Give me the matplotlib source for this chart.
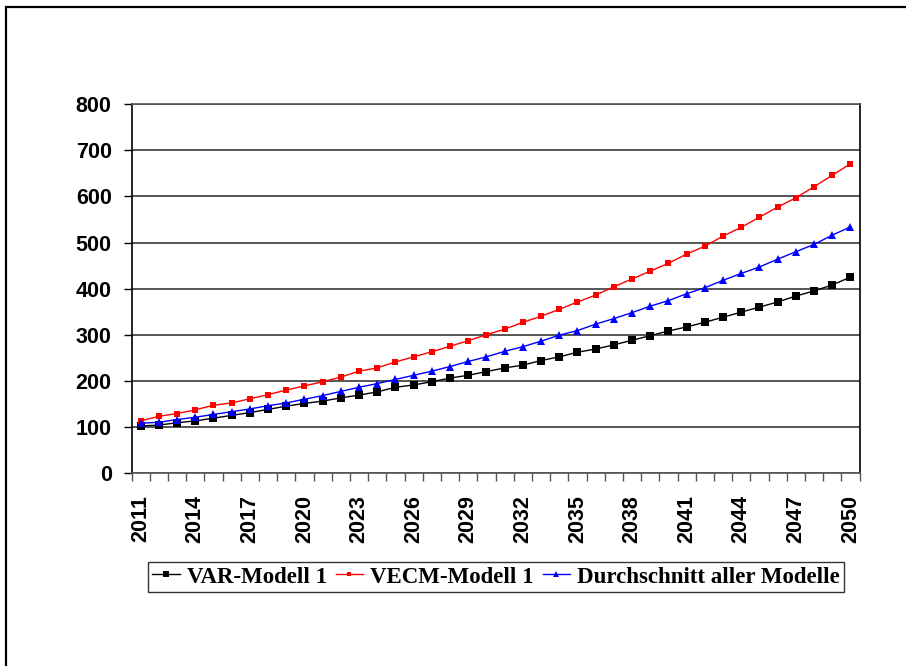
import matplotlib
matplotlib.use("Agg")
import matplotlib.pyplot as plt
from matplotlib.patches import Rectangle

years = list(range(2011, 2051))

var_modell = [102, 104, 109, 113, 119, 125, 131, 138, 145, 151,
              156, 163, 169, 176, 186, 191, 198, 206, 212, 220,
              228, 234, 244, 252, 262, 269, 278, 288, 298, 308,
              317, 327, 338, 349, 360, 371, 384, 395, 408, 425]

vecm_modell = [113, 123, 129, 137, 147, 152, 161, 170, 180, 189,
               198, 208, 221, 228, 241, 252, 263, 275, 287, 300,
               312, 327, 340, 355, 371, 386, 404, 421, 438, 455,
               475, 492, 514, 533, 555, 577, 597, 621, 646, 671]

durchschnitt = [108, 110, 116, 121, 127, 133, 139, 146, 152, 160,
                168, 177, 186, 194, 203, 212, 221, 231, 242, 252,
                264, 274, 286, 299, 309, 323, 335, 348, 362, 374,
                389, 402, 418, 433, 447, 464, 480, 496, 516, 534]

labels = ["VAR-Modell 1", "VECM-Modell 1", "Durchschnitt aller Modelle"]

fig = plt.figure(figsize=(9.06, 6.66), dpi=100)
ax = fig.add_axes([131.5 / 906, 1 - 473 / 666, 728 / 906, 368.7 / 666])

x = list(range(len(years)))
ax.plot(x, var_modell, color="black", lw=1.0, marker="s", ms=5.8,
        markeredgewidth=0, label=labels[0], zorder=3)
ax.plot(x, vecm_modell, color="#ff0000", lw=1.0, marker="s", ms=4.4,
        markeredgewidth=0, label=labels[1], zorder=3)
ax.plot(x, durchschnitt, color="#0000ff", lw=1.0, marker="^", ms=5.8,
        markeredgewidth=0, label=labels[2], zorder=3)

ax.set_xlim(-0.5, len(years) - 0.5)
ax.set_ylim(0, 800)
ax.set_yticks(range(0, 801, 100))
ax.yaxis.grid(True, color="#555555", lw=1.4)
ax.set_axisbelow(True)

# category boundaries as tick marks, every third year as label
ax.set_xticks([i - 0.5 for i in range(len(years) + 1)])
ax.set_xticklabels([])
ax.set_xticks(x[::3], minor=True)
ax.set_xticklabels([str(y) for y in years[::3]], minor=True, rotation=90)
ax.tick_params(axis="x", which="major", direction="out", length=5.8,
               width=1, color="#555555")
ax.tick_params(axis="x", which="minor", length=0, pad=16)
ax.tick_params(axis="y", direction="out", length=5.8, width=1, pad=8.5)

for lab in ax.get_xticklabels(minor=True) + ax.get_yticklabels():
    lab.set_fontfamily("Liberation Sans")
    lab.set_fontweight("bold")
    lab.set_fontsize(15.5)

for side in ["left", "right", "bottom", "top"]:
    ax.spines[side].set_linewidth(1.2)
    ax.spines[side].set_color("black")
ax.spines["top"].set_color("#555555")
ax.spines["bottom"].set_color("#555555")

leg = fig.legend(loc="center", bbox_to_anchor=(496 / 906, 1 - 577 / 666),
                 ncol=3, frameon=True, fancybox=False, edgecolor="black",
                 handlelength=1.2, handletextpad=0.3, columnspacing=0.4,
                 borderpad=0.2, markerscale=0.7,
                 prop={"family": "Liberation Serif", "weight": "bold", "size": 16.5})
leg.get_frame().set_linewidth(1.0)

fig.patches.append(Rectangle((6 / 906, -0.1), 1.2, 1.1 - 7 / 666,
                             transform=fig.transFigure, fill=False,
                             edgecolor="black", lw=1.6))

fig.savefig("out.png", dpi=100)
